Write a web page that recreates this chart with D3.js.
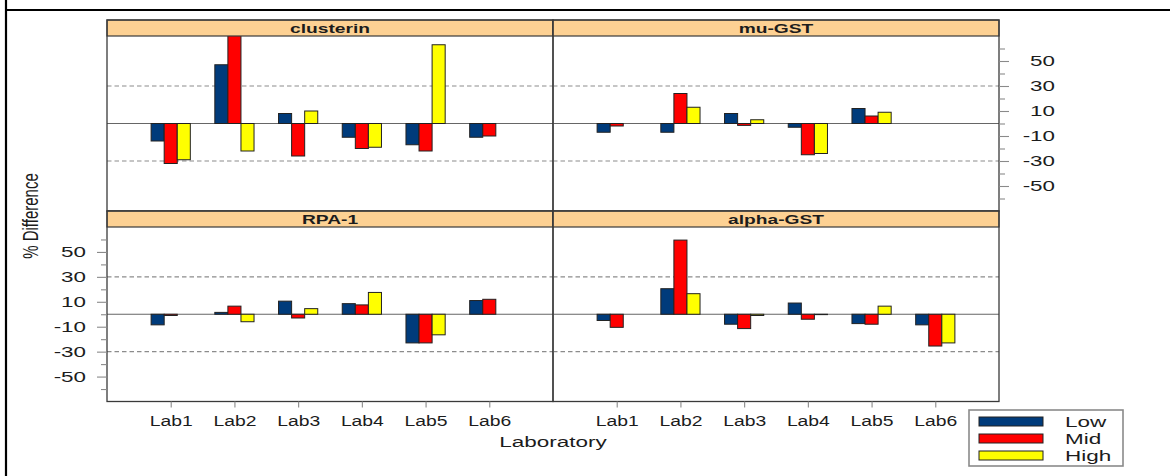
<!DOCTYPE html>
<html>
<head>
<meta charset="utf-8">
<script src="https://cdn.jsdelivr.net/npm/d3@7"></script>
<style>
  html, body { margin: 0; padding: 0; background: #fff; }
  svg { display: block; font-family: "Liberation Sans", Arial, Helvetica, sans-serif; }
</style>
</head>
<body>
<svg id="chart" width="1170" height="476"></svg>
<script>
// ---- data -------------------------------------------------------------
const labs = ["Lab1", "Lab2", "Lab3", "Lab4", "Lab5", "Lab6"];
const levels = ["Low", "Mid", "High"];
const levelColors = ["#003b7b", "#ff0000", "#ffff00"];
const proteins = ["clusterin", "mu-GST", "RPA-1", "alpha-GST"];

// % difference per laboratory (null = not reported)
const clusterinLow  = [-14, 47, 8, -11, -17, -11];
const clusterinMid  = [-32, 78, -26, -20, -22, -10];
const clusterinHigh = [-29, -22, 10, -19, 63, null];

const muGstLow  = [-7, -7, 8, -3, 12, null];
const muGstMid  = [-2, 24, -1.5, -25, 6, null];
const muGstHigh = [null, 13, 3, -24, 9, null];

const rpa1Low  = [-8.5, 1.5, 10.5, 8.5, -23, 11];
const rpa1Mid  = [-1, 6.5, -3, 7.5, -23, 12];
const rpa1High = [null, -6, 4.5, 17.5, -16.5, null];

const alphaGstLow  = [-5, 20.5, -8, 9, -7.5, -8.5];
const alphaGstMid  = [-10.5, 59.5, -11.5, -4, -8, -25.5];
const alphaGstHigh = [null, 16.5, -1, -0.3, 6.5, -23];

const yDomain = [-70, 70];
const yTicksLabelled = [-50, -30, -10, 10, 30, 50];
const yTicksMinor = [-60, -40, -20, 0, 20, 40, 60];
const refLines = [-30, 30];

const seriesByProtein = {
  "clusterin": [clusterinLow, clusterinMid, clusterinHigh],
  "mu-GST":    [muGstLow, muGstMid, muGstHigh],
  "RPA-1":     [rpa1Low, rpa1Mid, rpa1High],
  "alpha-GST": [alphaGstLow, alphaGstMid, alphaGstHigh]
};

// ---- layout -----------------------------------------------------------
const svg = d3.select("#chart");
const colX = [[107, 553], [553, 999]];
const rows = [
  { stripTop: 20,  plotTop: 36,  plotBot: 211 },
  { stripTop: 211, plotTop: 227, plotBot: 401.5 }
];
const STRIP_FILL = "#fdd193";
const FRAME = "#3a3a3a";
const TXT = "#1c1c1c";
const SX = 1.5; // horizontal glyph stretch used for all labels

// outer frame lines
svg.append("line").attr("x1", 6).attr("x2", 6).attr("y1", 0).attr("y2", 476)
  .attr("stroke", "#000").attr("stroke-width", 2.2);
svg.append("line").attr("x1", 6).attr("x2", 1170).attr("y1", 10).attr("y2", 10)
  .attr("stroke", "#000").attr("stroke-width", 2.2);

function stretchedText(parent, x, y, str, size, s, opts = {}) {
  const g = parent.append("g").attr("transform", `translate(${x},${y}) scale(${s},1)`);
  return g.append("text")
    .attr("text-anchor", opts.anchor || "middle")
    .attr("font-size", size)
    .attr("font-weight", opts.weight || "normal")
    .attr("fill", TXT)
    .text(str);
}

const defs = svg.append("defs");

proteins.forEach((protein, p) => {
  const r = rows[Math.floor(p / 2)];
  const [x0, x1] = colX[p % 2];

  const x = d3.scalePoint().domain(labs).range([x0, x1]).padding(1);
  const inner = d3.scaleBand().domain(levels).range([-19.6, 19.6]);
  const y = d3.scaleLinear().domain(yDomain).range([r.plotBot, r.plotTop]);

  const clipId = "clip" + p;
  defs.append("clipPath").attr("id", clipId).append("rect")
    .attr("x", x0).attr("y", r.plotTop).attr("width", x1 - x0).attr("height", r.plotBot - r.plotTop);

  const panel = svg.append("g");

  // reference lines
  panel.selectAll(".ref").data(refLines).join("line")
    .attr("x1", x0).attr("x2", x1)
    .attr("y1", d => y(d)).attr("y2", d => y(d))
    .attr("stroke", "#8c8c8c").attr("stroke-width", 1.1)
    .attr("stroke-dasharray", "4.5,3");

  // zero line
  panel.append("line")
    .attr("x1", x0).attr("x2", x1).attr("y1", y(0)).attr("y2", y(0))
    .attr("stroke", "#666").attr("stroke-width", 1.1);

  // bars
  const bars = [];
  seriesByProtein[protein].forEach((vals, j) => {
    vals.forEach((v, i) => {
      if (v !== null) bars.push({ lab: labs[i], level: levels[j], color: levelColors[j], v });
    });
  });
  panel.append("g").attr("clip-path", `url(#${clipId})`)
    .selectAll("rect").data(bars).join("rect")
    .attr("x", d => x(d.lab) + inner(d.level))
    .attr("width", inner.bandwidth())
    .attr("y", d => y(Math.max(0, d.v)))
    .attr("height", d => Math.abs(y(d.v) - y(0)))
    .attr("fill", d => d.color)
    .attr("stroke", "#222").attr("stroke-width", 1);

  // strip
  panel.append("rect")
    .attr("x", x0).attr("y", r.stripTop).attr("width", x1 - x0).attr("height", r.plotTop - r.stripTop)
    .attr("fill", STRIP_FILL).attr("stroke", FRAME).attr("stroke-width", 1.2);
  stretchedText(panel, (x0 + x1) / 2, r.stripTop + 12.5, protein, 12, 1.6, { weight: "bold" });

  // panel border
  panel.append("rect")
    .attr("x", x0).attr("y", r.stripTop).attr("width", x1 - x0).attr("height", r.plotBot - r.stripTop)
    .attr("fill", "none").attr("stroke", FRAME).attr("stroke-width", 1.3);

  // y axes: right side on top-right, left side on bottom-left
  const side = p === 1 ? "right" : (p === 2 ? "left" : null);
  if (side) {
    const ax = side === "right" ? d3.axisRight : d3.axisLeft;
    const xa = side === "right" ? x1 : x0;
    const labelEdge = side === "right" ? 1055 : 86;
    const minorG = svg.append("g").attr("transform", `translate(${xa},0)`)
      .call(ax(y).tickValues(yTicksMinor).tickSize(6).tickFormat(""));
    const majorG = svg.append("g").attr("transform", `translate(${xa},0)`)
      .call(ax(y).tickValues(yTicksLabelled).tickSize(10).tickFormat(d => String(d)));
    [minorG, majorG].forEach(g => {
      g.select(".domain").remove();
      g.selectAll(".tick line").attr("stroke", "#8a8a8a").attr("stroke-width", 1.1);
    });
    majorG.selectAll(".tick text")
      .attr("text-anchor", "end")
      .attr("font-size", 14)
      .attr("font-family", "Liberation Sans, Arial, sans-serif")
      .attr("fill", TXT)
      .attr("x", (labelEdge - xa) / 1.6)
      .attr("transform", "scale(1.6,1)");
  }

  // x axis on bottom row
  if (p >= 2) {
    const g = svg.append("g").attr("transform", `translate(0,${r.plotBot})`)
      .call(d3.axisBottom(x).tickSize(6));
    g.select(".domain").remove();
    g.selectAll(".tick line").attr("stroke", "#8a8a8a").attr("stroke-width", 1.1);
    g.selectAll(".tick text")
      .attr("font-size", 14)
      .attr("font-family", "Liberation Sans, Arial, sans-serif")
      .attr("fill", TXT)
      .attr("y", 25).attr("dy", 0)
      .attr("transform", "scale(1.38,1)");
  }
});

// axis titles
stretchedText(svg, 553, 447, "Laboratory", 15, SX);
svg.append("g").attr("transform", "translate(38,216) scale(1.45,1) rotate(-90)")
  .append("text").attr("text-anchor", "middle").attr("font-size", 15)
  .attr("fill", TXT).text("% Difference");

// legend
const legend = svg.append("g");
legend.append("rect").attr("x", 969).attr("y", 410).attr("width", 154).attr("height", 56)
  .attr("fill", "#fff").attr("stroke", "#8a8a8a").attr("stroke-width", 1.6);
levels.forEach((lv, i) => {
  const yy = 417 + i * 17;
  legend.append("rect").attr("x", 979).attr("y", yy).attr("width", 64).attr("height", 9)
    .attr("fill", levelColors[i]).attr("stroke", "#222").attr("stroke-width", 1);
  stretchedText(legend, 1065, yy + 9.5, lv, 15, SX, { anchor: "start" });
});
</script>
</body>
</html>
